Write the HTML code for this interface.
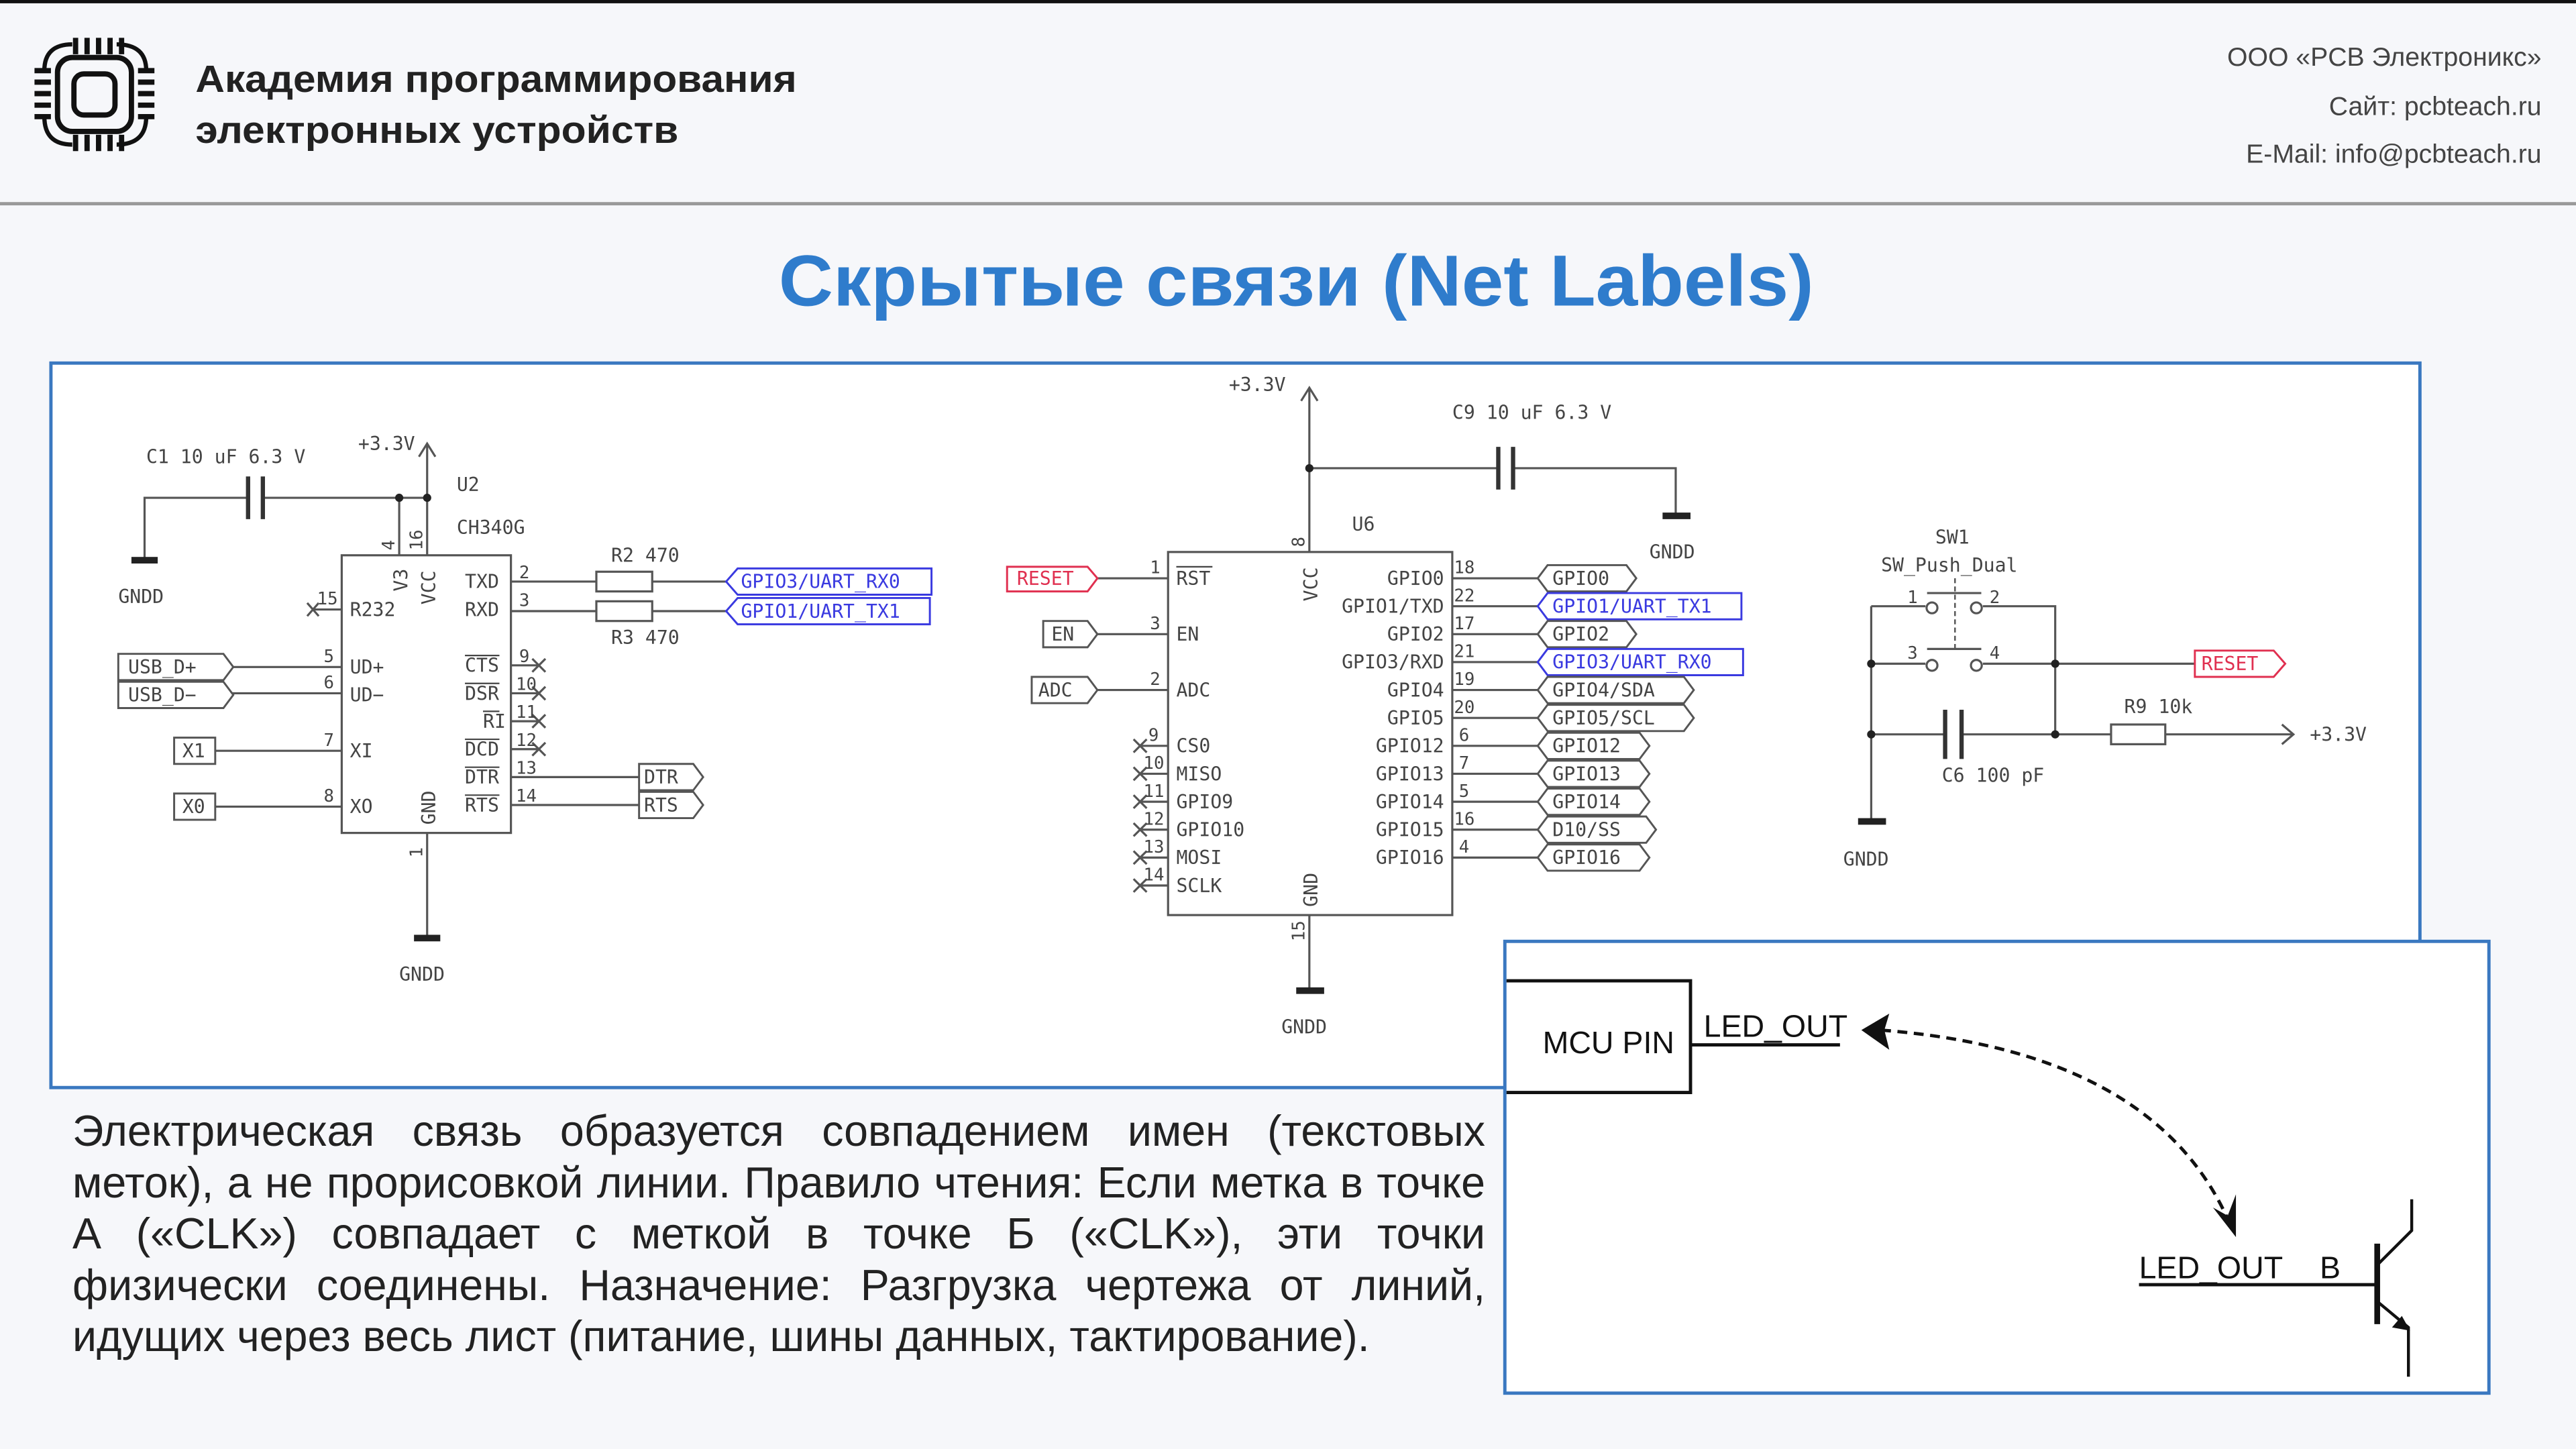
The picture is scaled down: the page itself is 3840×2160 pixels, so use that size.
<!DOCTYPE html>
<html><head><meta charset="utf-8"><style>
html,body{margin:0;padding:0;background:#f6f7fa;}
svg{display:block}
.m{font-family:"DejaVu Sans Mono","Liberation Mono",monospace;font-size:11.5px;fill:#444}
.n{font-family:"DejaVu Sans Mono","Liberation Mono",monospace;font-size:10.5px;fill:#444}
.w{stroke:#555;stroke-width:1.3;fill:none}
.lb{fill:#fff;stroke:#555;stroke-width:1.2}
.bl{fill:#fff;stroke:#3a3ae0;stroke-width:1.2}
.bt{fill:#3a3ae0}
.rd{fill:#fff;stroke:#e03050;stroke-width:1.2}
.rt{fill:#e03050}
.s{font-family:"Liberation Sans",sans-serif}
#para{position:absolute;left:108px;top:1648px;width:2106px;font-family:"Liberation Sans",sans-serif;font-size:64.5px;line-height:76.6px;color:#222;margin:0;white-space:nowrap}
#para span{display:block;text-align:justify;text-align-last:justify}
#para span.l{text-align:left;text-align-last:left}
</style></head><body>
<svg width="3840" height="2160" viewBox="0 0 1568 882" preserveAspectRatio="none" xmlns="http://www.w3.org/2000/svg">
<rect x="0" y="0" width="1568" height="882" fill="#f6f7fa"/>
<rect x="0" y="0" width="1568" height="2" fill="#111"/>
<rect x="0" y="123" width="1568" height="2" fill="#999"/>
<g stroke="#111" fill="none" stroke-width="3.2" stroke-linecap="butt">
<rect x="35" y="35" width="45" height="45" rx="9"/>
<rect x="45" y="45" width="25" height="25" rx="6"/>
<path d="M46 23v10M53 23v10M60 23v10M67 23v10M74 23v10 M46 82v10M53 82v10M60 82v10M67 82v10M74 82v10 M21 43h10M21 50h10M21 57h10M21 64h10M21 71h10 M84 43h10M84 50h10M84 57h10M84 64h10M84 71h10"/>
<path d="M44 27 Q27 27 27 43 M71 27 Q89 27 89 43 M27 71 Q27 88 44 88 M89 71 Q89 88 71 88" stroke-width="2.6"/>
</g>
<text x="119" y="56" class="s" font-size="23" font-weight="bold" fill="#222" textLength="366" lengthAdjust="spacingAndGlyphs">Академия программирования</text>
<text x="119" y="87" class="s" font-size="23" font-weight="bold" fill="#222" textLength="294" lengthAdjust="spacingAndGlyphs">электронных устройств</text>
<g class="s" font-size="16" fill="#444" text-anchor="end">
<text x="1547" y="40">ООО «PCB Электроникс»</text>
<text x="1547" y="70">Сайт: pcbteach.ru</text>
<text x="1547" y="99">E-Mail: info@pcbteach.ru</text>
</g>
<text x="789" y="186" class="s" font-size="44" font-weight="bold" fill="#2f7ccc" text-anchor="middle" textLength="630" lengthAdjust="spacingAndGlyphs">Скрытые связи (Net Labels)</text>
<rect x="31" y="221" width="1442" height="441" fill="#fff" stroke="#3a78c0" stroke-width="2"/>

<rect x="208" y="338" width="103" height="169" class="w" fill="#fff"/>
<path class="w" d="M88 340V303H151M160 303H260M243 303V338M260 338V270M255 278L260 270L265 278"/>
<path d="M151 290V316M160 290V316" stroke="#333" stroke-width="2.6"/>
<rect x="80" y="339" width="16" height="4" fill="#222"/>
<circle cx="243" cy="303" r="2.5" fill="#222"/><circle cx="260" cy="303" r="2.5" fill="#222"/>
<text x="89" y="282" class="m">C1  10 uF 6.3 V</text>
<text x="218" y="274" class="m">+3.3V</text>
<text x="278" y="299" class="m">U2</text>
<text x="278" y="325" class="m">CH340G</text>
<text x="72" y="367" class="m">GNDD</text>
<text class="n" transform="translate(240,335) rotate(-90)">4</text>
<text class="n" transform="translate(257,335) rotate(-90)">16</text>
<text class="m" transform="translate(248,360) rotate(-90)">V3</text>
<text class="m" transform="translate(265,368) rotate(-90)">VCC</text>
<path class="w" d="M311 354H363M397 354H442M311 372H363M397 372H442"/>
<rect x="363" y="348" width="34" height="12" class="w" fill="#fff"/>
<rect x="363" y="366" width="34" height="12" class="w" fill="#fff"/>
<text x="372" y="342" class="m">R2 470</text>
<text x="372" y="392" class="m">R3  470</text>
<polygon class="bl" points="442,354 449,346 567,346 567,362 449,362"/>
<polygon class="bl" points="442,372 449,364 566,364 566,380 449,380"/>
<text x="451" y="358" class="m bt">GPIO3/UART_RX0</text>
<text x="451" y="376" class="m bt">GPIO1/UART_TX1</text>
<text x="283" y="358" class="m">TXD</text><text x="316" y="352" class="n">2</text>
<text x="283" y="375" class="m">RXD</text><text x="316" y="369" class="n">3</text>
<path class="w" d="M191 371H208M187 367l7 8M194 367l-7 8"/>
<text x="193" y="368" class="n">15</text><text x="213" y="375" class="m">R232</text>
<path class="w" d="M138 406H208M138 422H208M131 457H208M131 491H208"/>
<polygon class="lb" points="72,398 136,398 142,406 136,414 72,414"/>
<polygon class="lb" points="72,415 136,415 142,423 136,431 72,431"/>
<text x="78" y="410" class="m">USB_D+</text><text x="78" y="427" class="m">USB_D−</text>
<text x="197" y="403" class="n">5</text><text x="213" y="410" class="m">UD+</text>
<text x="197" y="419" class="n">6</text><text x="213" y="427" class="m">UD−</text>
<rect x="106" y="449" width="25" height="16" class="lb"/><text x="111" y="461" class="m">X1</text>
<rect x="106" y="483" width="25" height="16" class="lb"/><text x="111" y="495" class="m">X0</text>
<text x="197" y="454" class="n">7</text><text x="213" y="461" class="m">XI</text>
<text x="197" y="488" class="n">8</text><text x="213" y="495" class="m">XO</text>
<path class="w" d="M311 405H328M311 422H328M311 439H328M311 456H328M324 401l8 8M332 401l-8 8M324 418l8 8M332 418l-8 8M324 435l8 8M332 435l-8 8M324 452l8 8M332 452l-8 8M311 473H389M311 490H389"/>
<g class="m"><text x="283" y="409">CTS</text><text x="283" y="426">DSR</text><text x="294" y="443">RI</text><text x="283" y="460">DCD</text><text x="283" y="477">DTR</text><text x="283" y="494">RTS</text></g>
<path d="M283 399h21M283 416h21M294 433h10M283 450h21M283 467h21M283 484h21" stroke="#444" stroke-width="0.9"/>
<g class="n"><text x="316" y="403">9</text><text x="314" y="420">10</text><text x="314" y="437">11</text><text x="314" y="454">12</text><text x="314" y="471">13</text><text x="314" y="488">14</text></g>
<polygon class="lb" points="389,465 422,465 428,473 422,481 389,481"/>
<polygon class="lb" points="389,482 422,482 428,490 422,498 389,498"/>
<text x="392" y="477" class="m">DTR</text><text x="392" y="494" class="m">RTS</text>
<text class="m" transform="translate(265,502) rotate(-90)">GND</text>
<path class="w" d="M260 507V570"/><rect x="252" y="569" width="16" height="4" fill="#222"/>
<text class="n" transform="translate(257,522) rotate(-90)">1</text>
<text x="243" y="597" class="m">GNDD</text>

<rect x="711" y="336" width="173" height="221" class="w" fill="#fff"/>
<path class="w" d="M797 336V236M792 244L797 236L802 244M797 285H912M921 285H1020V313"/>
<path d="M912 272V298M921 272V298" stroke="#333" stroke-width="2.6"/>
<circle cx="797" cy="285" r="2.5" fill="#222"/>
<rect x="1012" y="312" width="17" height="4" fill="#222"/>
<text x="748" y="238" class="m">+3.3V</text>
<text x="884" y="255" class="m">C9  10 uF 6.3 V</text>
<text x="1004" y="340" class="m">GNDD</text>
<text x="823" y="323" class="m">U6</text>
<text class="n" transform="translate(794,333) rotate(-90)">8</text>
<text class="m" transform="translate(802,366) rotate(-90)">VCC</text>
<path class="w" d="M668 352H711M668 386H711M668 420H711"/>
<polygon class="rd" points="613,345 662,345 668,352 662,360 613,360"/>
<text x="619" y="356" class="m rt">RESET</text>
<polygon class="lb" points="635,378 662,378 668,386 662,394 635,394"/><text x="640" y="390" class="m">EN</text>
<polygon class="lb" points="628,412 662,412 668,420 662,428 628,428"/><text x="632" y="424" class="m">ADC</text>
<text x="700" y="349" class="n">1</text><text x="716" y="356" class="m">RST</text><path d="M716 345h22" stroke="#444" stroke-width="0.9"/>
<text x="700" y="383" class="n">3</text><text x="716" y="390" class="m">EN</text>
<text x="700" y="417" class="n">2</text><text x="716" y="424" class="m">ADC</text>
<g class="w">
<path d="M694 454H711M694 471H711M694 488H711M694 505H711M694 522H711M694 539H711"/>
<path d="M690 450l8 8M698 450l-8 8M690 467l8 8M698 467l-8 8M690 484l8 8M698 484l-8 8M690 501l8 8M698 501l-8 8M690 518l8 8M698 518l-8 8M690 535l8 8M698 535l-8 8"/>
</g>
<g class="n"><text x="699" y="451">9</text><text x="696" y="468">10</text><text x="696" y="485">11</text><text x="696" y="502">12</text><text x="696" y="519">13</text><text x="696" y="536">14</text></g>
<g class="m"><text x="716" y="458">CS0</text><text x="716" y="475">MISO</text><text x="716" y="492">GPIO9</text><text x="716" y="509">GPIO10</text><text x="716" y="526">MOSI</text><text x="716" y="543">SCLK</text></g>
<path class="w" d="M884 352H936M884 369H936M884 386H936M884 403H936M884 420H936M884 437H936M884 454H936M884 471H936M884 488H936M884 505H936M884 522H936"/>
<g class="m" text-anchor="end"><text x="879" y="356">GPIO0</text><text x="879" y="373">GPIO1/TXD</text><text x="879" y="390">GPIO2</text><text x="879" y="407">GPIO3/RXD</text><text x="879" y="424">GPIO4</text><text x="879" y="441">GPIO5</text><text x="879" y="458">GPIO12</text><text x="879" y="475">GPIO13</text><text x="879" y="492">GPIO14</text><text x="879" y="509">GPIO15</text><text x="879" y="526">GPIO16</text></g>
<g class="n"><text x="885" y="349">18</text><text x="885" y="366">22</text><text x="885" y="383">17</text><text x="885" y="400">21</text><text x="885" y="417">19</text><text x="885" y="434">20</text><text x="888" y="451">6</text><text x="888" y="468">7</text><text x="888" y="485">5</text><text x="885" y="502">16</text><text x="888" y="519">4</text></g>
<polygon class="lb" points="936,352 942,344 990,344 996,352 990,360 942,360"/>
<polygon class="bl" points="936,369 942,361 1060,361 1060,377 942,377"/>
<polygon class="lb" points="936,386 942,378 990,378 996,386 990,394 942,394"/>
<polygon class="bl" points="936,403 942,395 1061,395 1061,411 942,411"/>
<polygon class="lb" points="936,420 942,412 1025,412 1031,420 1025,428 942,428"/>
<polygon class="lb" points="936,437 942,429 1025,429 1031,437 1025,445 942,445"/>
<polygon class="lb" points="936,454 942,446 998,446 1004,454 998,462 942,462"/>
<polygon class="lb" points="936,471 942,463 998,463 1004,471 998,479 942,479"/>
<polygon class="lb" points="936,488 942,480 998,480 1004,488 998,496 942,496"/>
<polygon class="lb" points="936,505 942,497 1002,497 1008,505 1002,513 942,513"/>
<polygon class="lb" points="936,522 942,514 998,514 1004,522 998,530 942,530"/>
<g class="m"><text x="945" y="356">GPIO0</text><text x="945" y="373" class="bt">GPIO1/UART_TX1</text><text x="945" y="390">GPIO2</text><text x="945" y="407" class="bt">GPIO3/UART_RX0</text><text x="945" y="424">GPIO4/SDA</text><text x="945" y="441">GPIO5/SCL</text><text x="945" y="458">GPIO12</text><text x="945" y="475">GPIO13</text><text x="945" y="492">GPIO14</text><text x="945" y="509">D10/SS</text><text x="945" y="526">GPIO16</text></g>
<text class="m" transform="translate(802,552) rotate(-90)">GND</text>
<path class="w" d="M797 557V602"/><rect x="789" y="601" width="17" height="4" fill="#222"/>
<text class="n" transform="translate(794,573) rotate(-90)">15</text>
<text x="780" y="629" class="m">GNDD</text>

<text x="1178" y="331" class="m">SW1</text>
<text x="1145" y="348" class="m">SW_Push_Dual</text>
<path class="w" d="M1139 369V500M1139 369H1172M1207 369H1251V447M1139 404H1172M1207 404H1336M1139 447H1184M1194 447H1285M1318 447H1396M1389 441L1396 447L1389 453M1173 361H1206M1173 395H1206"/>
<path d="M1190 352V395" stroke="#555" stroke-width="1" stroke-dasharray="3,2"/>
<circle cx="1176" cy="370" r="3.3" class="w" fill="#fff"/><circle cx="1203" cy="370" r="3.3" class="w" fill="#fff"/>
<circle cx="1176" cy="405" r="3.3" class="w" fill="#fff"/><circle cx="1203" cy="405" r="3.3" class="w" fill="#fff"/>
<path d="M1184 432V462M1194 432V462" stroke="#333" stroke-width="2.6"/>
<rect x="1285" y="441" width="33" height="12" class="w" fill="#fff"/>
<circle cx="1139" cy="404" r="2.5" fill="#222"/><circle cx="1251" cy="404" r="2.5" fill="#222"/>
<circle cx="1139" cy="447" r="2.5" fill="#222"/><circle cx="1251" cy="447" r="2.5" fill="#222"/>
<rect x="1131" y="498" width="17" height="4" fill="#222"/>
<polygon class="rd" points="1336,396 1384,396 1391,404 1384,412 1336,412"/>
<text x="1340" y="408" class="m rt">RESET</text>
<g class="n"><text x="1161" y="367">1</text><text x="1211" y="367">2</text><text x="1161" y="401">3</text><text x="1211" y="401">4</text></g>
<text x="1293" y="434" class="m">R9  10k</text>
<text x="1182" y="476" class="m">C6  100 pF</text>
<text x="1406" y="451" class="m">+3.3V</text>
<text x="1122" y="527" class="m">GNDD</text>

<rect x="916" y="573" width="599" height="275" fill="#fff" stroke="#3a78c0" stroke-width="2"/>
<path d="M917 597H1029V665H917" stroke="#111" stroke-width="2" fill="none"/>
<text x="939" y="641" class="s" font-size="19" fill="#111">MCU PIN</text>
<text x="1037" y="631" class="s" font-size="19" fill="#111">LED_OUT</text>
<path d="M1029 636H1120" stroke="#111" stroke-width="2"/>
<path d="M1145 627 Q1310 640 1356 742" stroke="#111" stroke-width="2" fill="none" stroke-dasharray="6,4"/>
<polygon points="1133,627 1150,617 1147,627 1150,639" fill="#111"/>
<polygon points="1361,753 1347,735 1356,740 1361,727" fill="#111"/>
<text x="1302" y="778" class="s" font-size="19" fill="#111">LED_OUT</text>
<text x="1412" y="778" class="s" font-size="19" fill="#111">B</text>
<path d="M1302 782H1446" stroke="#111" stroke-width="2"/>
<path d="M1447 757V806" stroke="#111" stroke-width="3.5"/>
<path d="M1448 769L1468 749V730M1448 793L1466 808V838" stroke="#111" stroke-width="1.8" fill="none"/>
<polygon points="1467,810 1456,808 1462,801" fill="#111"/>
</svg>
<div id="para"><span>Электрическая связь образуется совпадением имен (текстовых</span><span>меток), а не прорисовкой линии. Правило чтения: Если метка в точке</span><span>А («CLK») совпадает с меткой в точке Б («CLK»), эти точки</span><span>физически соединены. Назначение: Разгрузка чертежа от линий,</span><span class="l">идущих через весь лист (питание, шины данных, тактирование).</span></div>
</body></html>
